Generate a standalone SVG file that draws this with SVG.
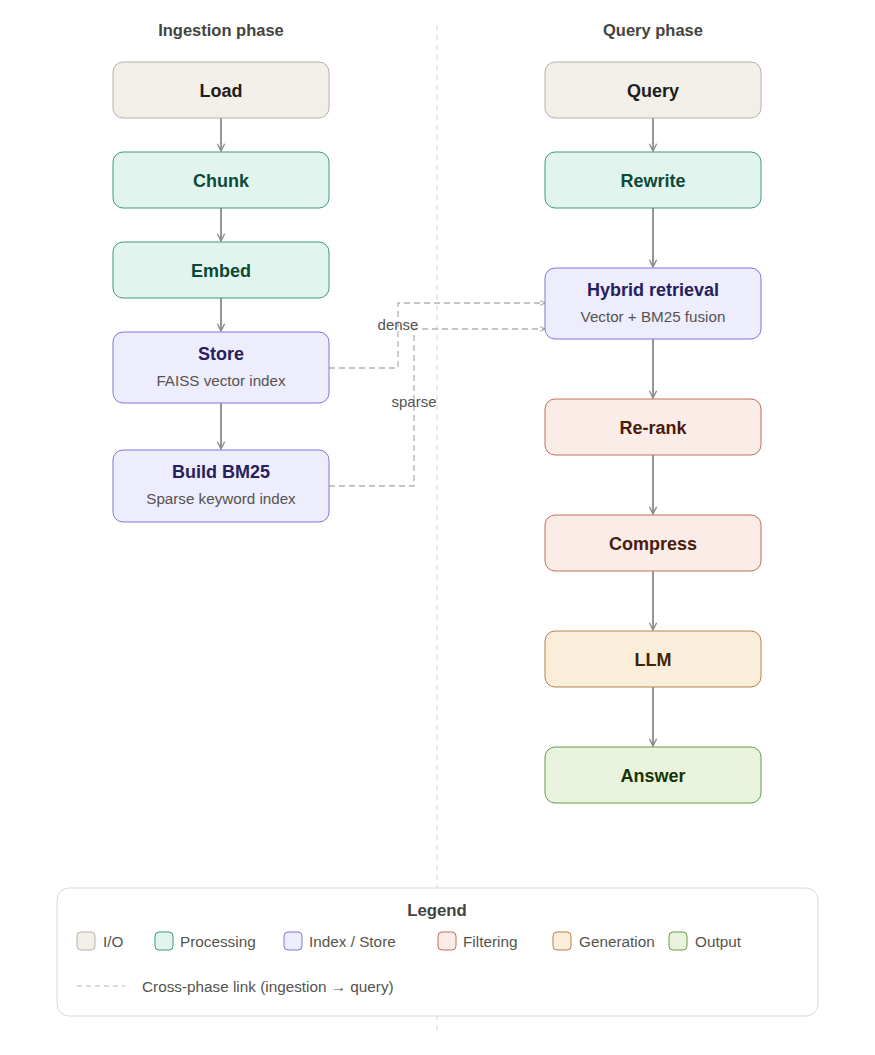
<svg xmlns="http://www.w3.org/2000/svg" width="875" height="1055" viewBox="0 0 875 1055">
<style>
  text { font-family: "Liberation Sans", Arial, sans-serif; }
  .hdr { font-size: 16.5px; font-weight: bold; fill: #444441; text-anchor: middle; }
  .t { font-size: 18px; font-weight: bold; text-anchor: middle; dominant-baseline: central; }
  .s { font-size: 15.2px; fill: #55534e; text-anchor: middle; dominant-baseline: central; }
  .io rect { fill: #f1efe8; stroke: #b4b2a9; }
  .io text.t { fill: #1e1d1a; }
  .proc rect { fill: #e1f5ee; stroke: #3f9a7a; }
  .proc text.t { fill: #0c4a38; }
  .idx rect { fill: #eeedfe; stroke: #7f77dd; }
  .idx text.t { fill: #26215c; }
  .filt rect { fill: #faece7; stroke: #c0705a; }
  .filt text.t { fill: #4a1b0c; }
  .gen rect { fill: #faeeda; stroke: #b5834a; }
  .gen text.t { fill: #412402; }
  .out rect { fill: #eaf3de; stroke: #6b9a4a; }
  .out text.t { fill: #173404; }
  .node rect { stroke-width: 1; }
  .flow { stroke: #8c8a85; stroke-width: 1.8; fill: none; }
  .cross { stroke: #b4b2a9; stroke-width: 1.3; stroke-dasharray: 6 4; fill: none; }
  .lbl { font-size: 15px; fill: #55534e; text-anchor: middle; dominant-baseline: central; }
  .lg { font-size: 15.3px; fill: #55534e; dominant-baseline: central; }
</style>
<defs>
  <marker id="ah" viewBox="0 0 10 10" refX="9" refY="5" markerWidth="9" markerHeight="9" orient="auto" markerUnits="userSpaceOnUse">
    <path d="M1 1 L9 5 L1 9" fill="none" stroke="#8c8a85" stroke-width="1.5"/>
  </marker>
  <marker id="ahc" viewBox="0 0 10 10" refX="9" refY="5" markerWidth="7" markerHeight="7" orient="auto" markerUnits="userSpaceOnUse">
    <path d="M2 1.5 L9 5 L2 8.5" fill="none" stroke="#a09e96" stroke-width="1.4"/>
  </marker>
</defs>
<rect width="875" height="1055" fill="#ffffff"/>

<line x1="437" y1="25" x2="437" y2="1030" stroke="#d3d1c7" stroke-width="1" stroke-dasharray="5 5"/>

<text class="hdr" x="221" y="36">Ingestion phase</text>
<text class="hdr" x="653" y="36">Query phase</text>

<g id="connectors">
  <line class="flow" x1="221" y1="118" x2="221" y2="151" marker-end="url(#ah)"/>
  <line class="flow" x1="221" y1="208" x2="221" y2="241" marker-end="url(#ah)"/>
  <line class="flow" x1="221" y1="298" x2="221" y2="331" marker-end="url(#ah)"/>
  <line class="flow" x1="221" y1="403" x2="221" y2="449" marker-end="url(#ah)"/>
  <line class="flow" x1="653" y1="118" x2="653" y2="151" marker-end="url(#ah)"/>
  <line class="flow" x1="653" y1="208" x2="653" y2="267" marker-end="url(#ah)"/>
  <line class="flow" x1="653" y1="339" x2="653" y2="398" marker-end="url(#ah)"/>
  <line class="flow" x1="653" y1="455" x2="653" y2="514" marker-end="url(#ah)"/>
  <line class="flow" x1="653" y1="571" x2="653" y2="630" marker-end="url(#ah)"/>
  <line class="flow" x1="653" y1="687" x2="653" y2="746" marker-end="url(#ah)"/>
  <path class="cross" d="M329 368 H398 V303 H545" marker-end="url(#ahc)"/>
  <path class="cross" d="M329 486 H414 V329 H545" marker-end="url(#ahc)"/>
  <text class="lbl" x="398" y="324">dense</text>
  <text class="lbl" x="414" y="401">sparse</text>
</g>

<g id="load" class="node io"><rect x="113" y="62" width="216" height="56" rx="10"/><text class="t" x="221" y="91">Load</text></g>
<g id="chunk" class="node proc"><rect x="113" y="152" width="216" height="56" rx="10"/><text class="t" x="221" y="181">Chunk</text></g>
<g id="embed" class="node proc"><rect x="113" y="242" width="216" height="56" rx="10"/><text class="t" x="221" y="271">Embed</text></g>
<g id="store" class="node idx"><rect x="113" y="332" width="216" height="71" rx="10"/><text class="t" x="221" y="354">Store</text><text class="s" x="221" y="380">FAISS vector index</text></g>
<g id="bm25" class="node idx"><rect x="113" y="450" width="216" height="72" rx="10"/><text class="t" x="221" y="472">Build BM25</text><text class="s" x="221" y="498">Sparse keyword index</text></g>

<g id="query" class="node io"><rect x="545" y="62" width="216" height="56" rx="10"/><text class="t" x="653" y="91">Query</text></g>
<g id="rewrite" class="node proc"><rect x="545" y="152" width="216" height="56" rx="10"/><text class="t" x="653" y="181">Rewrite</text></g>
<g id="hybrid" class="node idx"><rect x="545" y="268" width="216" height="71" rx="10"/><text class="t" x="653" y="290">Hybrid retrieval</text><text class="s" x="653" y="316">Vector + BM25 fusion</text></g>
<g id="rerank" class="node filt"><rect x="545" y="399" width="216" height="56" rx="10"/><text class="t" x="653" y="428">Re-rank</text></g>
<g id="compress" class="node filt"><rect x="545" y="515" width="216" height="56" rx="10"/><text class="t" x="653" y="544">Compress</text></g>
<g id="llm" class="node gen"><rect x="545" y="631" width="216" height="56" rx="10"/><text class="t" x="653" y="660">LLM</text></g>
<g id="answer" class="node out"><rect x="545" y="747" width="216" height="56" rx="10"/><text class="t" x="653" y="776">Answer</text></g>

<g id="legend">
  <rect x="57" y="888" width="761" height="128" rx="12" fill="#ffffff" stroke="#dcdad2" stroke-width="1"/>
  <text x="437" y="910" font-size="16.8" font-weight="bold" fill="#444441" text-anchor="middle" dominant-baseline="central">Legend</text>
  <g class="io"><rect x="77" y="932" width="18" height="18" rx="4"/></g>
  <text class="lg" x="103" y="941">I/O</text>
  <g class="proc"><rect x="155" y="932" width="18" height="18" rx="4"/></g>
  <text class="lg" x="180" y="941">Processing</text>
  <g class="idx"><rect x="284" y="932" width="18" height="18" rx="4"/></g>
  <text class="lg" x="309" y="941">Index / Store</text>
  <g class="filt"><rect x="438" y="932" width="18" height="18" rx="4"/></g>
  <text class="lg" x="463" y="941">Filtering</text>
  <g class="gen"><rect x="553" y="932" width="18" height="18" rx="4"/></g>
  <text class="lg" x="579" y="941">Generation</text>
  <g class="out"><rect x="669" y="932" width="18" height="18" rx="4"/></g>
  <text class="lg" x="695" y="941">Output</text>
  <line x1="77" y1="986" x2="125" y2="986" stroke="#b4b2a9" stroke-width="1.2" stroke-dasharray="5 4"/>
  <text class="lg" x="142" y="986">Cross-phase link (ingestion → query)</text>
</g>
</svg>
